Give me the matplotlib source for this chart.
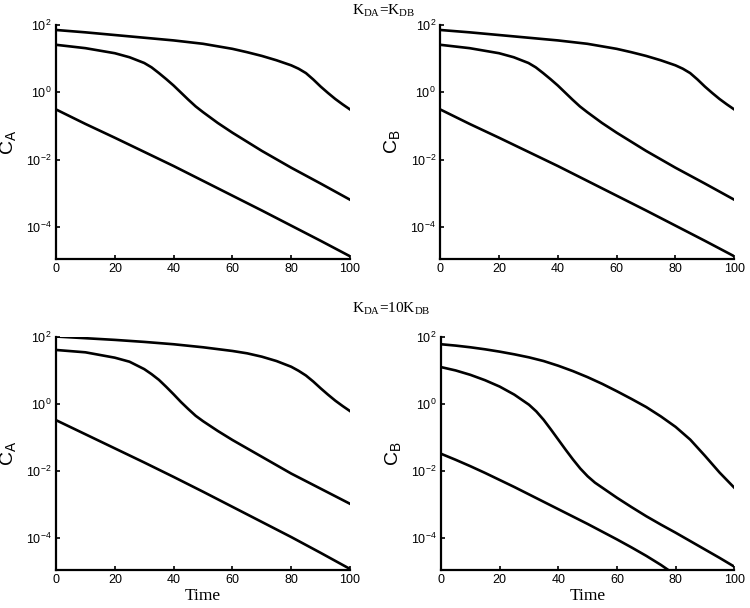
import numpy as np
import matplotlib
matplotlib.use('Agg')
from matplotlib import pyplot as plt

# log10 of concentration, curves given as (time, log10 C)
# K_DA = K_DB  (C_A and C_B panels look the same)
eq_top_t = [0, 10, 20, 30, 40, 50, 60, 65, 70, 75, 80, 82.5, 85, 87.5, 90, 92.5, 95, 97.5, 100]
eq_top = [1.85, 1.78, 1.70, 1.62, 1.54, 1.44, 1.29, 1.19, 1.08, 0.95, 0.80, 0.70, 0.57,
          0.38, 0.17, -0.02, -0.20, -0.36, -0.51]
eq_mid_t = [0, 10, 20, 25, 30, 32.5, 35, 37.5, 40, 42.5, 45, 47.5, 50, 55, 60, 70, 80, 90, 100]
eq_mid = [1.41, 1.31, 1.16, 1.04, 0.87, 0.74, 0.57, 0.39, 0.20, -0.01, -0.22, -0.42,
          -0.59, -0.91, -1.20, -1.74, -2.24, -2.71, -3.19]
eq_low_t = [0, 10, 20, 30, 40, 50, 60, 70, 80, 90, 100]
eq_low = [-0.51, -0.94, -1.35, -1.77, -2.19, -2.63, -3.07, -3.51, -3.96, -4.41, -4.87]

# K_DA = 10 K_DB, C_A
a10_top_t = eq_top_t
a10_top = [2.00, 1.95, 1.90, 1.84, 1.77, 1.68, 1.57, 1.50, 1.40, 1.27, 1.10, 0.98, 0.84,
           0.66, 0.46, 0.27, 0.09, -0.07, -0.22]
a10_mid_t = eq_mid_t
a10_mid = [1.60, 1.53, 1.37, 1.25, 1.03, 0.88, 0.71, 0.50, 0.28, 0.05, -0.16, -0.36,
           -0.52, -0.81, -1.08, -1.58, -2.08, -2.53, -2.98]
a10_low_t = eq_low_t
a10_low = [-0.49, -0.91, -1.33, -1.75, -2.18, -2.62, -3.07, -3.52, -3.97, -4.44, -4.92]

# K_DA = 10 K_DB, C_B
b10_top_t = [0, 5, 10, 15, 20, 25, 30, 35, 40, 45, 50, 55, 60, 65, 70, 75, 80, 85, 90, 95, 100]
b10_top = [1.77, 1.73, 1.68, 1.62, 1.55, 1.47, 1.38, 1.27, 1.13, 0.97, 0.79,
           0.59, 0.37, 0.14, -0.10, -0.38, -0.69, -1.07, -1.55, -2.05, -2.50]
b10_mid_t = [0, 5, 10, 15, 20, 25, 30, 32.5, 35, 37.5, 40, 42.5, 45, 47.5, 50, 52.5, 55,
             60, 65, 70, 75, 80, 85, 90, 95, 100]
b10_mid = [1.09, 0.99, 0.86, 0.70, 0.51, 0.27, -0.03, -0.23, -0.48, -0.77, -1.07, -1.37,
           -1.66, -1.93, -2.16, -2.35, -2.50, -2.80, -3.08, -3.35, -3.60, -3.84, -4.09,
           -4.34, -4.59, -4.85]
b10_low_t = [0, 5, 10, 15, 20, 25, 30, 35, 40, 45, 50, 55, 60, 65, 70, 75, 80]
b10_low = [-1.49, -1.67, -1.86, -2.06, -2.27, -2.48, -2.70, -2.92, -3.14, -3.36, -3.58,
           -3.81, -4.04, -4.28, -4.53, -4.80, -5.10]

panels = [
    ([(eq_top_t, eq_top), (eq_mid_t, eq_mid), (eq_low_t, eq_low)], 'A'),
    ([(eq_top_t, eq_top), (eq_mid_t, eq_mid), (eq_low_t, eq_low)], 'B'),
    ([(a10_top_t, a10_top), (a10_mid_t, a10_mid), (a10_low_t, a10_low)], 'A'),
    ([(b10_top_t, b10_top), (b10_mid_t, b10_mid), (b10_low_t, b10_low)], 'B'),
]

plt.rcParams['font.family'] = 'Liberation Sans'
plt.rcParams['mathtext.fontset'] = 'custom'
plt.rcParams['mathtext.rm'] = 'Liberation Sans'

fig = plt.figure(figsize=(7.5, 6.08), dpi=100)

# axes rectangles [left, bottom, width, height]
rects = [[0.0747, 0.574, 0.392, 0.385],
         [0.587, 0.574, 0.392, 0.385],
         [0.0747, 0.0625, 0.392, 0.384],
         [0.588, 0.0625, 0.391, 0.384]]

for i, (rect, (curves, sp)) in enumerate(zip(rects, panels)):
    ax = fig.add_axes(rect)
    for tt, s in curves:
        ax.plot(tt, 10.0 ** np.array(s), color='black', lw=1.9)
    ax.set_yscale('log')
    ax.set_xlim(0, 100)
    ax.set_ylim(1.12e-5, 100)
    ax.set_xticks([0, 20, 40, 60, 80, 100])
    ax.set_yticks([1e2, 1e0, 1e-2, 1e-4])
    ax.minorticks_off()
    ax.spines['top'].set_visible(False)
    ax.spines['right'].set_visible(False)
    for side in ['left', 'bottom']:
        ax.spines[side].set_linewidth(1.6)
    ax.tick_params(axis='both', direction='in', length=3, width=1.2,
                   labelsize=9, pad=3)
    ax.set_ylabel(r'C$_\mathregular{%s}$' % sp, fontsize=14, labelpad=5)
    if i >= 2:
        ax.set_xlabel('Time', fontsize=12.5, family='Liberation Serif', labelpad=1)

fig.text(0.512, 0.983, r'K$_\mathregular{DA}$=K$_\mathregular{DB}$',
         ha='center', va='center', fontsize=11, family='Liberation Serif')
fig.text(0.522, 0.492, r'K$_\mathregular{DA}$=10K$_\mathregular{DB}$',
         ha='center', va='center', fontsize=11, family='Liberation Serif')

plt.savefig('out.png', dpi=100)
